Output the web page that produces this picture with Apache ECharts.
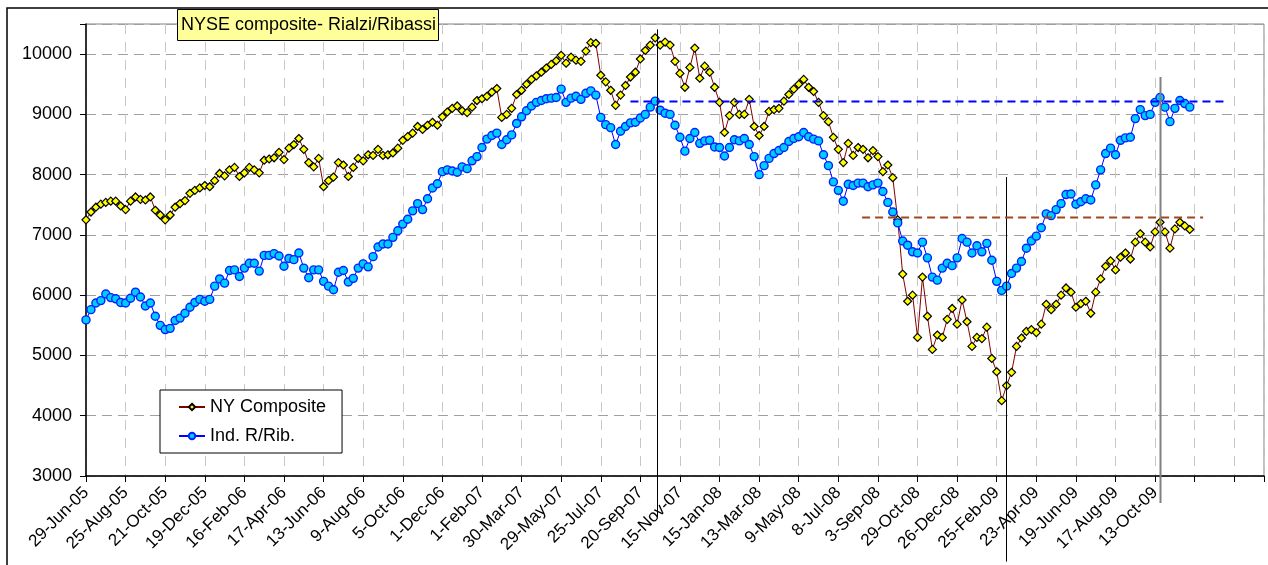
<!DOCTYPE html>
<html>
<head>
<meta charset="utf-8">
<script src="https://cdn.jsdelivr.net/npm/echarts@6/dist/echarts.min.js"></script>
<style>
html, body { margin: 0; padding: 0; background: #fff; }
#chart { width: 1268px; height: 565px; }
</style>
</head>
<body>
<div id="chart"></div>
<script>
// etichette dell'asse x (una ogni STEP punti)
var tickLabels = ['29-Jun-05','25-Aug-05','21-Oct-05','19-Dec-05','16-Feb-06','17-Apr-06','13-Jun-06',
    '9-Aug-06','5-Oct-06','1-Dec-06','1-Feb-07','30-Mar-07','29-May-07','25-Jul-07','20-Sep-07',
    '15-Nov-07','15-Jan-08','13-Mar-08','9-May-08','8-Jul-08','3-Sep-08','29-Oct-08','26-Dec-08',
    '25-Feb-09','23-Apr-09','19-Jun-09','17-Aug-09','13-Oct-09'];
var STEP = 8;        // punti per intervallo tra etichette
var X_MAX = 238;     // fine asse (in punti)

var nyComposite = [
    7250,7380,7460,7510,7540,7560,7560,7480,7420,7560,
    7630,7590,7580,7630,7410,7330,7250,7330,7460,7520,
    7570,7690,7740,7780,7820,7800,7900,8020,7980,8080,
    8120,7970,8030,8120,8080,8030,8240,8260,8280,8370,
    8250,8440,8500,8600,8420,8200,8130,8270,7800,7900,
    7960,8200,8160,7970,8120,8270,8230,8330,8320,8420,
    8320,8330,8360,8440,8570,8630,8690,8800,8750,8820,
    8870,8820,8960,9040,9100,9140,9060,9030,9120,9230,
    9260,9300,9370,9430,8950,9000,9100,9330,9400,9500,
    9580,9640,9700,9770,9830,9890,9980,9850,9950,9900,
    9880,10050,10190,10180,9650,9540,9400,9150,9320,9480,
    9620,9700,9920,10060,10150,10270,10150,10200,10150,9880,
    9680,9450,9780,10100,9600,9800,9700,9450,9200,8700,
    8980,9200,9000,9000,9250,8800,8650,8800,9050,9080,
    9100,9220,9330,9420,9500,9580,9450,9380,9200,8980,
    8880,8620,8420,8200,8520,8320,8450,8420,8280,8400,
    8300,8050,8160,7950,7250,6350,5900,6000,5300,6300,
    5650,5100,5340,5300,5600,5780,5520,5920,5560,5150,
    5300,5280,5470,4950,4730,4250,4500,4720,5150,5290,
    5400,5430,5380,5520,5850,5760,5850,6000,6120,6050,
    5800,5860,5900,5700,6050,6270,6480,6570,6420,6630,
    6700,6600,6880,7020,6880,6800,7050,7210,7050,6780,
    7100,7210,7150,7090
];

var indRRib = [
    5590,5760,5870,5910,6020,5960,5940,5880,5870,5950,
    6050,5970,5820,5870,5650,5500,5430,5450,5580,5620,
    5700,5800,5880,5930,5900,5930,6150,6270,6200,6410,
    6420,6310,6450,6530,6530,6400,6660,6660,6690,6650,
    6480,6610,6590,6700,6450,6290,6420,6420,6230,6150,
    6090,6380,6410,6220,6280,6450,6520,6470,6640,6800,
    6850,6850,6960,7070,7180,7260,7400,7520,7420,7600,
    7780,7850,8050,8080,8060,8040,8130,8100,8230,8300,
    8450,8590,8650,8690,8500,8580,8660,8850,8960,9060,
    9140,9200,9230,9260,9270,9280,9420,9200,9270,9300,
    9250,9350,9390,9320,8950,8830,8780,8500,8720,8800,
    8860,8870,8940,9000,9120,9220,9070,9020,9000,8820,
    8620,8390,8600,8700,8520,8560,8570,8460,8450,8310,
    8450,8580,8560,8600,8500,8300,8000,8150,8270,8350,
    8400,8450,8550,8600,8630,8700,8630,8590,8560,8330,
    8150,7880,7740,7560,7840,7820,7860,7860,7800,7830,
    7860,7720,7540,7380,7200,6900,6830,6720,6700,6880,
    6620,6300,6250,6450,6530,6490,6620,6940,6880,6700,
    6820,6720,6860,6580,6230,6080,6150,6360,6450,6560,
    6780,6900,6980,7120,7350,7320,7420,7520,7670,7680,
    7510,7550,7600,7580,7830,8080,8350,8440,8330,8570,
    8610,8620,8930,9080,8980,9000,9200,9280,9120,8880,
    9100,9230,9180,9120
];

// linee disegnate a mano sul grafico (unita' dei dati)
var vLines = [
    { x: 115.4, from: 10410, to: 2320, color: '#000', width: 1 },
    { x: 185.9, from: 7960, to: 1580, color: '#000', width: 1 },
    { x: 217.0, from: 9620, to: 2550, color: '#808080', width: 2 }
];
var hLines = [
    { y: 9228, from: 110, to: 230.8, color: '#0000FF' },
    { y: 7290, from: 156.8, to: 225.7, color: '#A0471E' }
];

var FONT = 'Arial, "Liberation Sans", sans-serif';

function toPairs(arr) {
    return arr.map(function (v, i) { return [i, v]; });
}

var chart = echarts.init(document.getElementById('chart'));

var option = {
    backgroundColor: '#fff',
    animation: false,
    title: {
        text: 'NYSE composite- Rialzi/Ribassi',
        left: 177,
        top: 9,
        padding: [7, 3, 7, 4],
        backgroundColor: '#FFFF99',
        borderColor: '#000',
        borderWidth: 1,
        textStyle: { fontFamily: FONT, fontSize: 18, fontWeight: 'normal', color: '#000' }
    },
    legend: {
        orient: 'vertical',
        left: 160,
        top: 390,
        padding: [8, 16, 8, 18],
        itemGap: 11,
        itemWidth: 26,
        itemHeight: 8,
        backgroundColor: '#fff',
        borderColor: '#000',
        borderWidth: 1,
        textStyle: { fontFamily: FONT, fontSize: 18, color: '#000' },
        data: ['NY Composite', 'Ind. R/Rib.']
    },
    grid: {
        left: 86, top: 24, right: 4, bottom: 89,
        show: true,
        borderColor: '#808080',
        borderWidth: 1,
        outerBoundsMode: 'none'
    },
    xAxis: {
        type: 'value',
        min: 0,
        max: X_MAX,
        interval: STEP,
        axisLine: { show: true, lineStyle: { color: '#000', width: 1.5 } },
        axisTick: { show: true, length: 6, lineStyle: { color: '#000' } },
        axisLabel: {
            rotate: 45,
            margin: 14,
            fontFamily: FONT,
            fontSize: 17,
            color: '#000',
            formatter: function (v) { return tickLabels[v / STEP] || ''; }
        },
        splitLine: { show: true, lineStyle: { color: '#c8c8c8', type: [10, 8] } }
    },
    yAxis: {
        type: 'value',
        min: 3000,
        max: 10500,
        interval: 1000,
        axisLine: { show: true, lineStyle: { color: '#000', width: 1.5 } },
        axisTick: { show: true, length: 6, lineStyle: { color: '#000' } },
        axisLabel: {
            margin: 14,
            fontFamily: FONT,
            fontSize: 18,
            color: '#000',
            formatter: function (v) { return v > 10000 ? '' : String(v); }
        },
        splitLine: { show: true, lineStyle: { color: '#a0a0a0', type: [10, 6] } }
    },
    series: [
        {
            name: 'NY Composite',
            type: 'line',
            data: toPairs(nyComposite),
            symbol: 'diamond',
            symbolSize: 8,
            showAllSymbol: true,
            lineStyle: { color: '#800000', width: 1 },
            itemStyle: { color: '#FFFF00', borderColor: '#000', borderWidth: 1.2 },
            emphasis: { disabled: true }
        },
        {
            name: 'Ind. R/Rib.',
            type: 'line',
            data: toPairs(indRRib),
            symbol: 'circle',
            symbolSize: 8,
            showAllSymbol: true,
            lineStyle: { color: '#0000FF', width: 1 },
            itemStyle: { color: '#00CCFF', borderColor: '#0022FF', borderWidth: 1.4 },
            emphasis: { disabled: true }
        }
    ]
};

chart.setOption(option);

// cornice esterna e linee annotate, posizionate con la scala del grafico
function px(x, y) { return chart.convertToPixel({ gridIndex: 0 }, [x, y]); }
var shapes = [{
    type: 'rect',
    silent: true,
    shape: { x: 7, y: 8, width: 1300, height: 600 },
    style: { fill: null, stroke: '#000', lineWidth: 1.5 },
    z: 0
}];
vLines.forEach(function (l) {
    var a = px(l.x, l.from), b = px(l.x, l.to);
    var x = Math.round(a[0]) + 0.5;
    shapes.push({
        type: 'line', silent: true, z: 100,
        shape: { x1: x, y1: a[1], x2: x, y2: b[1] },
        style: { stroke: l.color, lineWidth: l.width }
    });
});
hLines.forEach(function (l) {
    var a = px(l.from, l.y), b = px(l.to, l.y);
    var y = Math.round(a[1]) + 0.5;
    shapes.push({
        type: 'line', silent: true, z: 100,
        shape: { x1: a[0], y1: y, x2: b[0], y2: y },
        style: { stroke: l.color, lineWidth: 2, lineDash: [8, 5] }
    });
});
chart.setOption({ graphic: shapes });
</script>
</body>
</html>
